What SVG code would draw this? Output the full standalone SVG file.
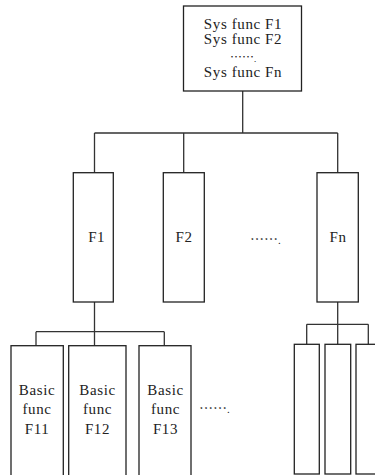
<svg xmlns="http://www.w3.org/2000/svg" width="375" height="475" viewBox="0 0 375 475">
<style>
.box{fill:#fff;stroke:#222;stroke-width:1.3}
.ln{fill:none;stroke:#333;stroke-width:1.3}
text{font-family:"Liberation Serif","Noto Sans CJK SC",serif;font-size:15px;fill:#222;text-anchor:middle;letter-spacing:0.6px}
.dots{font-family:"Noto Sans CJK SC",sans-serif;font-size:14px;text-anchor:start;letter-spacing:0}
</style>
<rect width="375" height="475" fill="#fff"/>
<g id="connectors">
<path class="ln" d="M242.7 91V133M94.5 133H337.7M94.5 133V172.7M183.7 133V172.7M337.7 133V172.7"/>
<path class="ln" d="M94.5 302V345.7M36 331.7H164.3M36 331.7V345.7M164.3 331.7V345.7"/>
<path class="ln" d="M337.7 302V344.3M306.7 324.3H368.3M306.7 324.3V344.3M368.3 324.3V344.3"/>
</g>
<g id="sys">
<rect class="box" x="183.5" y="6" width="118" height="85"/>
<text x="243" y="28.5">Sys func F1</text>
<text x="243" y="43.5">Sys func F2</text>
<text class="dots" x="230" y="62" style="font-size:12px">……<tspan style="font-size:8px">.</tspan></text>
<text x="243" y="77">Sys func Fn</text>
</g>
<g id="f1"><rect class="box" x="73.3" y="172.7" width="40" height="129.3"/><text x="96.7" y="242">F1</text></g>
<g id="f2"><rect class="box" x="163.3" y="172.7" width="41" height="129.3"/><text x="184" y="242">F2</text></g>
<text class="dots" x="250" y="244">……<tspan style="font-size:10px">.</tspan></text>
<g id="fn"><rect class="box" x="317" y="172.7" width="41.3" height="129.3"/><text x="338" y="242">Fn</text></g>
<g id="f11"><rect class="box" x="11" y="345.7" width="52.3" height="135"/><text x="37" y="395">Basic</text><text x="37" y="414">func</text><text x="37" y="434">F11</text></g>
<g id="f12"><rect class="box" x="68.7" y="345.7" width="57.3" height="135"/><text x="97.5" y="395">Basic</text><text x="97.5" y="414">func</text><text x="97.5" y="434">F12</text></g>
<g id="f13"><rect class="box" x="139" y="345.7" width="52" height="135"/><text x="165.5" y="395">Basic</text><text x="165.5" y="414">func</text><text x="165.5" y="434">F13</text></g>
<text class="dots" x="199" y="413">……<tspan style="font-size:10px">.</tspan></text>
<g id="fn1"><rect class="box" x="294.3" y="344.3" width="25" height="129.7"/></g>
<g id="fn2"><rect class="box" x="325" y="344.3" width="25.7" height="129.7"/></g>
<g id="fn3"><rect class="box" x="356" y="344.3" width="30" height="129.7"/></g>
</svg>
